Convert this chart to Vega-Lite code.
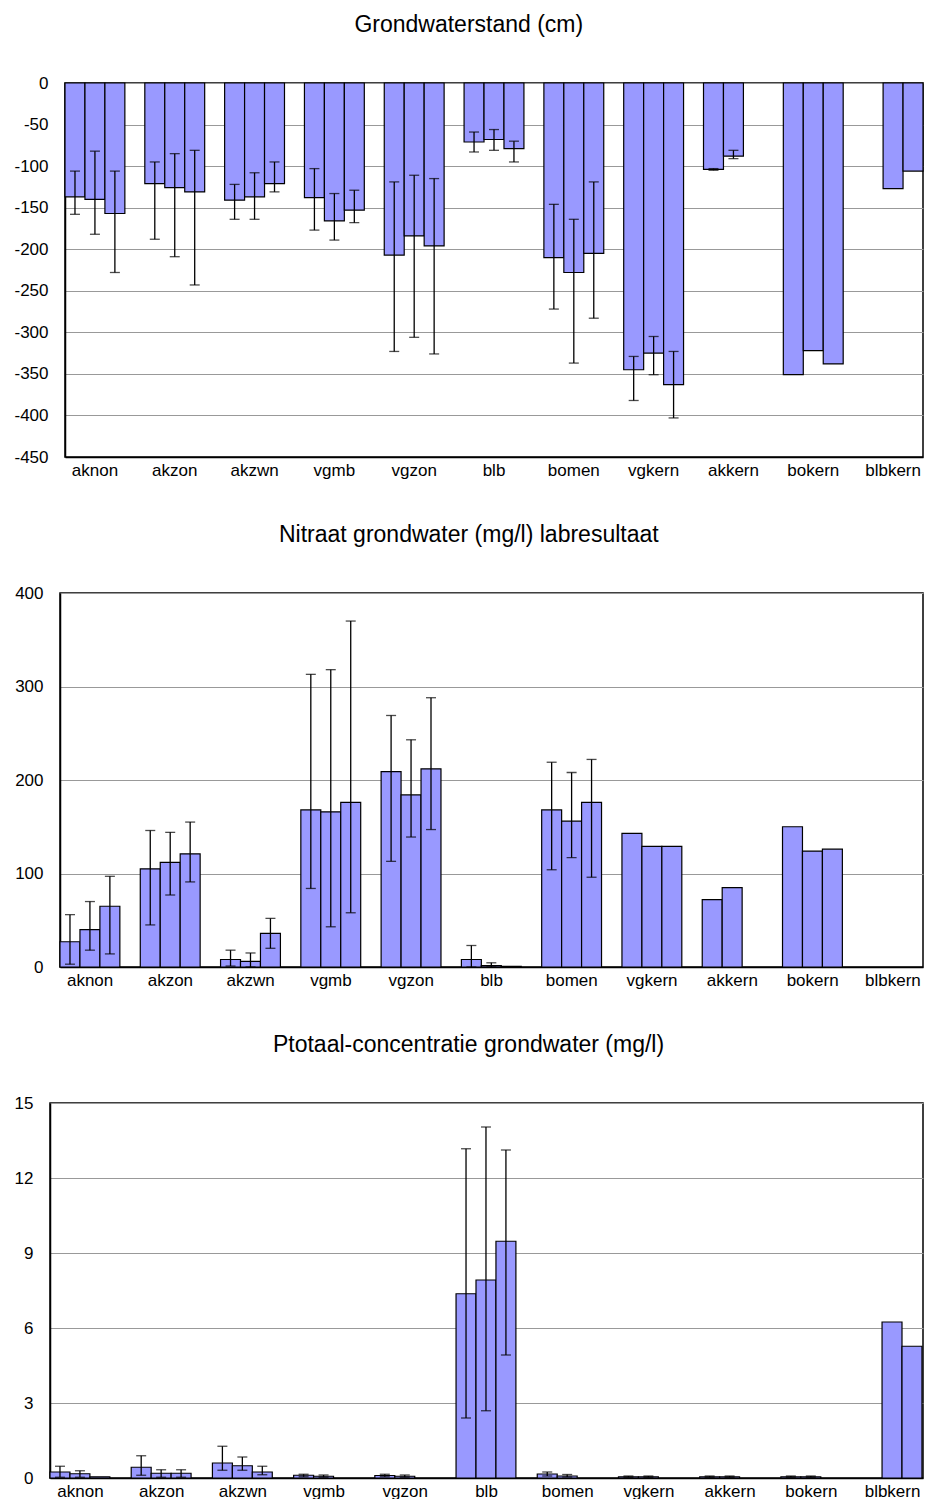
{
  "$schema": "https://vega.github.io/schema/vega-lite/v6.json",
  "padding": {"left": 0, "top": 13, "right": 1, "bottom": 0},
  "spacing": 44,
  "background": "white",
  "config": {
    "font": "Liberation Sans",
    "view": {"stroke": "black", "strokeWidth": 1.5},
    "axis": {"labelFont": "Liberation Sans", "labelFontSize": 17, "labelColor": "black", "ticks": false, "tickSize": 0, "domainColor": "black", "domainWidth": 1.5, "gridColor": "#999999", "gridWidth": 1},
    "axisX": {"labelPadding": 5, "grid": false, "labelAngle": 0},
    "axisY": {"labelPadding": 17, "grid": true},
    "title": {"font": "Liberation Sans", "fontSize": 23, "fontWeight": "normal", "color": "black", "anchor": "middle", "frame": "bounds", "offset": 37}
  },
  "datasets": {
    "gw": [
      {"c": "aknon", "s": "1", "v": -137, "lo": -158, "hi": -106},
      {"c": "aknon", "s": "2", "v": -140, "lo": -182, "hi": -82},
      {"c": "aknon", "s": "3", "v": -157, "lo": -228, "hi": -106},
      {"c": "akzon", "s": "1", "v": -121, "lo": -188, "hi": -95},
      {"c": "akzon", "s": "2", "v": -126, "lo": -209, "hi": -85},
      {"c": "akzon", "s": "3", "v": -131, "lo": -243, "hi": -81},
      {"c": "akzwn", "s": "1", "v": -141, "lo": -164, "hi": -122},
      {"c": "akzwn", "s": "2", "v": -137, "lo": -164, "hi": -108},
      {"c": "akzwn", "s": "3", "v": -121, "lo": -131, "hi": -95},
      {"c": "vgmb", "s": "1", "v": -138, "lo": -177, "hi": -103},
      {"c": "vgmb", "s": "2", "v": -166, "lo": -189, "hi": -133},
      {"c": "vgmb", "s": "3", "v": -153, "lo": -168, "hi": -129},
      {"c": "vgzon", "s": "1", "v": -207, "lo": -323, "hi": -119},
      {"c": "vgzon", "s": "2", "v": -184, "lo": -306, "hi": -111},
      {"c": "vgzon", "s": "3", "v": -196, "lo": -326, "hi": -115},
      {"c": "blb", "s": "1", "v": -71, "lo": -83, "hi": -59},
      {"c": "blb", "s": "2", "v": -68, "lo": -81, "hi": -56},
      {"c": "blb", "s": "3", "v": -79, "lo": -95, "hi": -70},
      {"c": "bomen", "s": "1", "v": -210, "lo": -272, "hi": -146},
      {"c": "bomen", "s": "2", "v": -228, "lo": -337, "hi": -164},
      {"c": "bomen", "s": "3", "v": -205, "lo": -283, "hi": -119},
      {"c": "vgkern", "s": "1", "v": -345, "lo": -382, "hi": -329},
      {"c": "vgkern", "s": "2", "v": -325, "lo": -351, "hi": -305},
      {"c": "vgkern", "s": "3", "v": -363, "lo": -403, "hi": -323},
      {"c": "akkern", "s": "1", "v": -104, "lo": -105, "hi": -103},
      {"c": "akkern", "s": "2", "v": -88, "lo": -91, "hi": -81},
      {"c": "bokern", "s": "1", "v": -351, "lo": null, "hi": null},
      {"c": "bokern", "s": "2", "v": -322, "lo": null, "hi": null},
      {"c": "bokern", "s": "3", "v": -338, "lo": null, "hi": null},
      {"c": "blbkern", "s": "2", "v": -127, "lo": null, "hi": null},
      {"c": "blbkern", "s": "3", "v": -106, "lo": null, "hi": null}
    ],
    "no3": [
      {"c": "aknon", "s": "1", "v": 27, "lo": 3, "hi": 56},
      {"c": "aknon", "s": "2", "v": 40, "lo": 18, "hi": 70},
      {"c": "aknon", "s": "3", "v": 65, "lo": 14, "hi": 97},
      {"c": "akzon", "s": "1", "v": 105, "lo": 45, "hi": 146},
      {"c": "akzon", "s": "2", "v": 112, "lo": 77, "hi": 144},
      {"c": "akzon", "s": "3", "v": 121, "lo": 91, "hi": 155},
      {"c": "akzwn", "s": "1", "v": 8, "lo": 1, "hi": 18},
      {"c": "akzwn", "s": "2", "v": 6, "lo": 0, "hi": 15},
      {"c": "akzwn", "s": "3", "v": 36, "lo": 20, "hi": 52},
      {"c": "vgmb", "s": "1", "v": 168, "lo": 84, "hi": 313},
      {"c": "vgmb", "s": "2", "v": 166, "lo": 43, "hi": 318},
      {"c": "vgmb", "s": "3", "v": 176, "lo": 58, "hi": 370},
      {"c": "vgzon", "s": "1", "v": 209, "lo": 113, "hi": 269},
      {"c": "vgzon", "s": "2", "v": 184, "lo": 139, "hi": 243},
      {"c": "vgzon", "s": "3", "v": 212, "lo": 147, "hi": 288},
      {"c": "blb", "s": "1", "v": 8, "lo": 0, "hi": 23},
      {"c": "blb", "s": "2", "v": 1.5, "lo": 0, "hi": 4.5},
      {"c": "blb", "s": "3", "v": 0.7, "lo": null, "hi": null},
      {"c": "bomen", "s": "1", "v": 168, "lo": 104, "hi": 219},
      {"c": "bomen", "s": "2", "v": 156, "lo": 117, "hi": 208},
      {"c": "bomen", "s": "3", "v": 176, "lo": 96, "hi": 222},
      {"c": "vgkern", "s": "1", "v": 143, "lo": null, "hi": null},
      {"c": "vgkern", "s": "2", "v": 129, "lo": null, "hi": null},
      {"c": "vgkern", "s": "3", "v": 129, "lo": null, "hi": null},
      {"c": "akkern", "s": "1", "v": 72, "lo": null, "hi": null},
      {"c": "akkern", "s": "2", "v": 85, "lo": null, "hi": null},
      {"c": "bokern", "s": "1", "v": 150, "lo": null, "hi": null},
      {"c": "bokern", "s": "2", "v": 124, "lo": null, "hi": null},
      {"c": "bokern", "s": "3", "v": 126, "lo": null, "hi": null}
    ],
    "pt": [
      {"c": "aknon", "s": "1", "v": 0.24, "lo": 0.03, "hi": 0.47},
      {"c": "aknon", "s": "2", "v": 0.17, "lo": 0.03, "hi": 0.29},
      {"c": "aknon", "s": "3", "v": 0.05, "lo": null, "hi": null},
      {"c": "akzon", "s": "1", "v": 0.43, "lo": 0.11, "hi": 0.89},
      {"c": "akzon", "s": "2", "v": 0.19, "lo": 0.03, "hi": 0.33},
      {"c": "akzon", "s": "3", "v": 0.19, "lo": 0.03, "hi": 0.33},
      {"c": "akzwn", "s": "1", "v": 0.6, "lo": 0.31, "hi": 1.27},
      {"c": "akzwn", "s": "2", "v": 0.49, "lo": 0.31, "hi": 0.84},
      {"c": "akzwn", "s": "3", "v": 0.24, "lo": 0.13, "hi": 0.47},
      {"c": "vgmb", "s": "1", "v": 0.11, "lo": 0.05, "hi": 0.15},
      {"c": "vgmb", "s": "2", "v": 0.07, "lo": 0.03, "hi": 0.12},
      {"c": "vgzon", "s": "1", "v": 0.1, "lo": 0.05, "hi": 0.15},
      {"c": "vgzon", "s": "2", "v": 0.07, "lo": 0.03, "hi": 0.12},
      {"c": "blb", "s": "1", "v": 7.37, "lo": 2.4, "hi": 13.17},
      {"c": "blb", "s": "2", "v": 7.92, "lo": 2.69, "hi": 14.04},
      {"c": "blb", "s": "3", "v": 9.47, "lo": 4.92, "hi": 13.12},
      {"c": "bomen", "s": "1", "v": 0.16, "lo": 0.08, "hi": 0.24},
      {"c": "bomen", "s": "2", "v": 0.08, "lo": 0.04, "hi": 0.14},
      {"c": "vgkern", "s": "1", "v": 0.05, "lo": 0.03, "hi": 0.08},
      {"c": "vgkern", "s": "2", "v": 0.05, "lo": 0.03, "hi": 0.08},
      {"c": "akkern", "s": "1", "v": 0.05, "lo": 0.03, "hi": 0.08},
      {"c": "akkern", "s": "2", "v": 0.05, "lo": 0.03, "hi": 0.08},
      {"c": "bokern", "s": "1", "v": 0.05, "lo": 0.03, "hi": 0.08},
      {"c": "bokern", "s": "2", "v": 0.05, "lo": 0.03, "hi": 0.08},
      {"c": "blbkern", "s": "2", "v": 6.24, "lo": null, "hi": null},
      {"c": "blbkern", "s": "3", "v": 5.27, "lo": null, "hi": null}
    ],
    "blank": [{"k": 0}]
  },
  "vconcat": [
    {"spacing": 0, "hconcat": [
    {"width": 13, "height": 1, "view": {"stroke": null}, "data": {"name": "blank"}, "mark": {"type": "point", "opacity": 0}, "encoding": {}},
    {
      "title": {"text": "Grondwaterstand (cm)"},
      "width": 858,
      "height": 374,
      "data": {"name": "gw"},
      "encoding": {
        "x": {"field": "c", "type": "nominal", "title": null, "scale": {"domain": ["aknon", "akzon", "akzwn", "vgmb", "vgzon", "blb", "bomen", "vgkern", "akkern", "bokern", "blbkern"], "paddingInner": 0.25, "paddingOuter": 0}},
        "xOffset": {"field": "s", "type": "nominal", "scale": {"domain": ["1", "2", "3"], "paddingInner": 0, "paddingOuter": 0}}
      },
      "layer": [
        {
          "mark": {"type": "bar", "fill": "#9999ff", "stroke": "black", "strokeWidth": 1.2},
          "encoding": {"y": {"field": "v", "type": "quantitative", "title": null, "scale": {"domain": [-450, 0], "nice": false}, "axis": {"values": [-450, -400, -350, -300, -250, -200, -150, -100, -50, 0], "labelExpr": "datum.value == 0 ? '0' : '-' + abs(datum.value)"}}}
        },
        {
          "transform": [{"filter": "isValid(datum.lo)"}],
          "mark": {"type": "rule", "color": "black", "strokeWidth": 1.3},
          "encoding": {"y": {"field": "lo", "type": "quantitative", "title": null}, "y2": {"field": "hi"}}
        },
        {
          "transform": [{"filter": "isValid(datum.lo)"}],
          "mark": {"type": "tick", "color": "black", "thickness": 1.3},
          "encoding": {"y": {"field": "lo", "type": "quantitative", "title": null}, "size": {"value": 10}}
        },
        {
          "transform": [{"filter": "isValid(datum.hi)"}],
          "mark": {"type": "tick", "color": "black", "thickness": 1.3},
          "encoding": {"y": {"field": "hi", "type": "quantitative", "title": null}, "size": {"value": 10}}
        }
      ]
    }]},
    {"spacing": 0, "hconcat": [
    {"width": 13, "height": 1, "view": {"stroke": null}, "data": {"name": "blank"}, "mark": {"type": "point", "opacity": 0}, "encoding": {}},
    {
      "title": {"text": "Nitraat grondwater (mg/l) labresultaat"},
      "width": 863,
      "height": 374,
      "data": {"name": "no3"},
      "encoding": {
        "x": {"field": "c", "type": "nominal", "title": null, "scale": {"domain": ["aknon", "akzon", "akzwn", "vgmb", "vgzon", "blb", "bomen", "vgkern", "akkern", "bokern", "blbkern"], "paddingInner": 0.25, "paddingOuter": 0}},
        "xOffset": {"field": "s", "type": "nominal", "scale": {"domain": ["1", "2", "3"], "paddingInner": 0, "paddingOuter": 0}}
      },
      "layer": [
        {
          "mark": {"type": "bar", "fill": "#9999ff", "stroke": "black", "strokeWidth": 1.2},
          "encoding": {"y": {"field": "v", "type": "quantitative", "title": null, "scale": {"domain": [0, 400], "nice": false}, "axis": {"values": [0, 100, 200, 300, 400]}}}
        },
        {
          "transform": [{"filter": "isValid(datum.lo)"}],
          "mark": {"type": "rule", "color": "black", "strokeWidth": 1.3},
          "encoding": {"y": {"field": "lo", "type": "quantitative", "title": null}, "y2": {"field": "hi"}}
        },
        {
          "transform": [{"filter": "isValid(datum.lo)"}],
          "mark": {"type": "tick", "color": "black", "thickness": 1.3},
          "encoding": {"y": {"field": "lo", "type": "quantitative", "title": null}, "size": {"value": 10}}
        },
        {
          "transform": [{"filter": "isValid(datum.hi)"}],
          "mark": {"type": "tick", "color": "black", "thickness": 1.3},
          "encoding": {"y": {"field": "hi", "type": "quantitative", "title": null}, "size": {"value": 10}}
        }
      ]
    }]},
    {"spacing": 0, "hconcat": [
    {"width": 13, "height": 1, "view": {"stroke": null}, "data": {"name": "blank"}, "mark": {"type": "point", "opacity": 0}, "encoding": {}},
    {
      "title": {"text": "Ptotaal-concentratie grondwater (mg/l)"},
      "width": 873,
      "height": 375,
      "data": {"name": "pt"},
      "encoding": {
        "x": {"field": "c", "type": "nominal", "title": null, "scale": {"domain": ["aknon", "akzon", "akzwn", "vgmb", "vgzon", "blb", "bomen", "vgkern", "akkern", "bokern", "blbkern"], "paddingInner": 0.25, "paddingOuter": 0}},
        "xOffset": {"field": "s", "type": "nominal", "scale": {"domain": ["1", "2", "3"], "paddingInner": 0, "paddingOuter": 0}}
      },
      "layer": [
        {
          "mark": {"type": "bar", "fill": "#9999ff", "stroke": "black", "strokeWidth": 1.2},
          "encoding": {"y": {"field": "v", "type": "quantitative", "title": null, "scale": {"domain": [0, 15], "nice": false}, "axis": {"values": [0, 3, 6, 9, 12, 15]}}}
        },
        {
          "transform": [{"filter": "isValid(datum.lo)"}],
          "mark": {"type": "rule", "color": "black", "strokeWidth": 1.3},
          "encoding": {"y": {"field": "lo", "type": "quantitative", "title": null}, "y2": {"field": "hi"}}
        },
        {
          "transform": [{"filter": "isValid(datum.lo)"}],
          "mark": {"type": "tick", "color": "black", "thickness": 1.3},
          "encoding": {"y": {"field": "lo", "type": "quantitative", "title": null}, "size": {"value": 10}}
        },
        {
          "transform": [{"filter": "isValid(datum.hi)"}],
          "mark": {"type": "tick", "color": "black", "thickness": 1.3},
          "encoding": {"y": {"field": "hi", "type": "quantitative", "title": null}, "size": {"value": 10}}
        }
      ]
    }]}
  ]
}
